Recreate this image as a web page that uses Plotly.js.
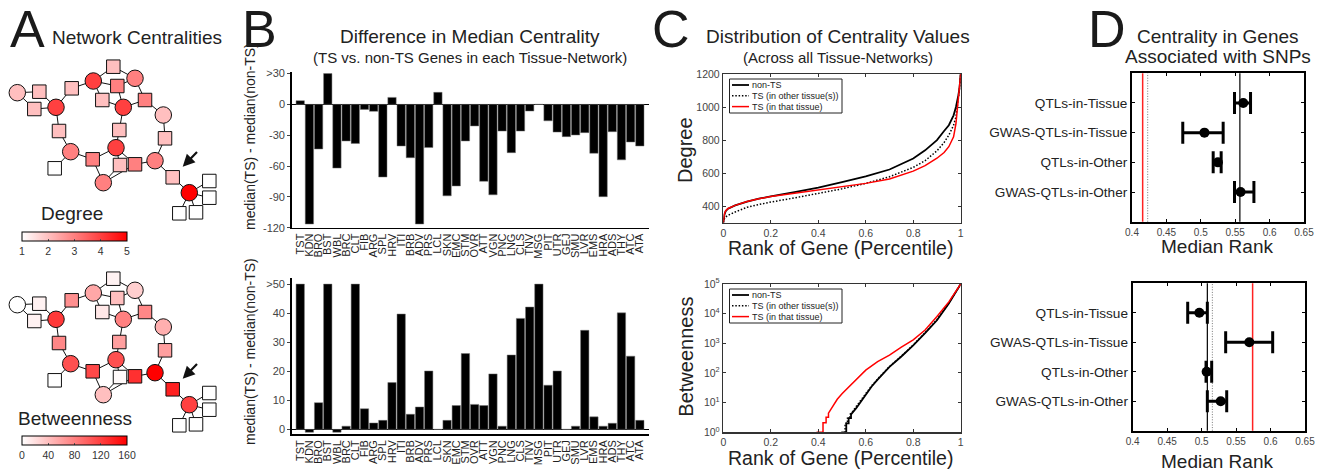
<!DOCTYPE html>
<html><head><meta charset="utf-8">
<script src="https://cdn.plot.ly/plotly-3.0.1.min.js"></script>
<style>html,body{margin:0;padding:0;background:#fff}#chart{width:1320px;height:472px}</style>
</head><body><div id="chart"></div>
<script>
// ================= DATA =================
// Panel A: toy network (local pixel frame), node values
const nodeName  = ['C1','S1','S2','C2','S3','C3','S4','C4','S5','S6','C5','S7','C6','S8','S9','S10','C7','S11','S12','C8','S13','S14','C10','C9','S15','C11','S16','S17','S18','S19'];
const nodeShape = ['circle','square','square','circle','square','circle','square','circle','square','square','circle','square','circle','square','square','square','circle','square','square','circle','square','square','circle','circle','square','circle','square','square','square','square'];
const nodeX = [17.3,39.3,34.3,56,71.7,93.3,113.3,135,117.3,102.3,123.3,145,163.3,59,119.3,165,70.7,54.7,92.7,116,120,135,103.3,155,172.7,189.3,209.3,209.3,179.3,196];
const nodeY = [92.7,91.7,109,107.3,88.3,81,66.7,78.3,86,100,107.3,100,115,131,130,138.3,151.7,168.3,159.3,147.7,165,164.3,182.7,160.7,177.3,192.7,181,197.7,213.3,212.3];
const nodeDegree  = [2,2,2,4,2,4,2,3,3,2,4,3,2,2,2,2,3,1,3,4,2,3,3,3,2,5,1,1,1,1];
const nodeBetween = [0,8,8,125,70,55,8,30,40,15,80,75,50,75,60,60,110,0,115,110,3,130,40,160,140,120,0,0,0,0];
const edgeFrom = ['C1','C1','S1','S2','C2','S3','C3','S4','C3','S5','C3','S5','S6','C4','C5','S7','C6','S10','C2','S8','C7','C7','S12','C5','S9','C8','S12','C10','C10','S14','S14','C9','S15','C11','C11','C11','C11'];
const edgeTo   = ['S1','S2','C2','C2','S3','C3','S4','C4','S5','C4','S6','C5','C5','S7','S7','C6','S10','C9','S8','C7','S11','S12','C8','S9','C8','S13','C10','S13','S14','C8','C9','S15','C11','S16','S17','S18','S19'];
const arrowHead = [182.7,166.7];
const arrowTail = [200,149];
const degreeTicks  = [1,2,3,4,5];
const betweenTicks = [0,40,80,120,160];

// Panel B: difference in median centrality per tissue
const tissues = ['TST','KDN','BRO','BST','WBL','BRC','CLT','FIB','ARG','SPL','HRV','ITI','BRB','ADV','PRS','LCL','SKN','EMC','STM','OVR','ATT','VGN','PNC','LNG','CLS','TNV','MSG','PIT','UTR','GEJ','SMU','LVR','EMS','HRA','ADS','THY','ATC','ATA'];
const degreeDiff  = [3.6,-116.4,-43.4,30,-62,-35.6,-38,-4.9,-6.8,-70.7,6.8,-40.5,-51.9,-116.4,-42,11.7,-89,-79.4,-35.6,-21,-74.9,-88,-26,-47,-26,-6.5,0,-16,-27,-31.4,-29.8,-27.5,-47.6,-89.8,-26.6,-54,-36.6,-40.5];
const betweenDiff = [50,-1,9.2,50,-1,1.1,50,7.1,2.2,3.1,16.1,39.7,5.2,7.7,20.1,0,3.1,8.2,26.1,8.6,8.2,19.1,1.1,25.6,38.2,42.1,50,15.2,20.1,0,1.1,34.1,4.3,1.1,2.1,40.1,25.2,3.1];
const degTickVals = [-120,-90,-60,-30,0,30];
const degTickText = ['-120','-90','-60','-30','0','>30'];
const btwTickVals = [0,10,20,30,40,50];
const btwTickText = ['0','10','20','30','40','>50'];

// Panel C: distributions
const seriesNames = ['non-TS','TS (in other tissue(s))','TS (in that tissue)'];
const degRank = [0,0.002,0.005,0.01,0.02,0.05,0.1,0.15,0.2,0.3,0.4,0.5,0.6,0.7,0.8,0.85,0.9,0.93,0.95,0.97,0.98,0.99,0.995,1.0];
const degNonTS  = [300,330,350,370,385,405,428,445,460,485,512,545,580,622,688,738,800,855,890,950,1000,1070,1115,1200];
const degTSOther= [300,315,325,335,345,365,393,410,425,450,478,505,538,578,635,675,735,785,830,890,940,1040,1110,1200];
const degTSThat = [300,335,355,372,386,405,428,445,458,478,497,515,538,565,612,645,690,725,760,820,900,1050,1130,1200];
const btwRankNonTS  = [0.503,0.518,0.518,0.528,0.528,0.538,0.538,0.55,0.56,0.58,0.6,0.625,0.65,0.7,0.75,0.8,0.85,0.9,0.95,0.975,1.0];
const btwNonTS      = [1,1,2,2,3,3,4,5,6.5,11,19,35,60,160,360,850,2200,6000,22000,45000,100000];
const btwRankTSOther= [0.497,0.513,0.513,0.523,0.523,0.533,0.533,0.545,0.56,0.58,0.6,0.625,0.65,0.7,0.75,0.8,0.85,0.9,0.95,0.975,1.0];
const btwTSOther    = [1,1,2,2,3,3,4,5,7.5,12.5,21,37,63,165,370,880,2300,6300,23000,46000,100000];
const btwRankTSThat = [0.393,0.42,0.42,0.433,0.433,0.443,0.443,0.46,0.48,0.5,0.525,0.55,0.6,0.65,0.7,0.75,0.8,0.85,0.9,0.95,0.975,1.0];
const btwTSThat     = [1,1,2.1,2.1,3.2,3.2,4.4,7.5,13,20,32,50,125,240,400,740,1300,2800,8000,25000,50000,100000];
const logTickVals = [1,10,100,1000,10000,100000];
const logTickText = ['10<sup>0</sup>','10<sup>1</sup>','10<sup>2</sup>','10<sup>3</sup>','10<sup>4</sup>','10<sup>5</sup>'];

// Panel D: median rank of SNP-associated genes
const snpCats = ['QTLs-in-Tissue','GWAS-QTLs-in-Tissue','QTLs-in-Other','GWAS-QTLs-in-Other'];
const degMed = [0.5617,0.5053,0.5248,0.5578];
const degLo  = [0.549,0.4738,0.518,0.549];
const degHi  = [0.5723,0.5325,0.5296,0.5772];
const degRef = [0.5568,0.4228,0.4155];   // non-TS, TS other, TS that
const btwMed = [0.4967,0.5692,0.5073,0.5277];
const btwLo  = [0.4798,0.5349,0.5064,0.5083];
const btwHi  = [0.5083,0.6031,0.5146,0.5364];
const btwRef = [0.5083,0.5156,0.574];
const rankTicks = [0.4,0.45,0.5,0.55,0.6,0.65];

// ================= STYLE / LAYOUT HELPERS =================
const W = 1320, H = 472;
const FONT = 'Liberation Sans, Arial, Helvetica, sans-serif';
const fx = p => p / W;
const fy = p => 1 - p / H;
const domX = (a, b) => [fx(a), fx(b)];
const domY = (top, bottom) => [fy(bottom), fy(top)];
const seriesColor = ['#000000','#000000','#ff0000'];
const seriesDash  = ['solid','1.5px,1.8px','solid'];
const seriesWidth = [1.8,1.5,1.5];
const refColor = ['#000000','#777777','#ff2222'];
const refDash  = ['solid','1px,1.6px','solid'];
const refWidth = [1.2,1.0,1.5];

const idx = {}; nodeName.forEach((n,i)=>idx[n]=i);
function edgeXY(){
  const ex=[], ey=[];
  edgeFrom.forEach((f,i)=>{const a=idx[f], b=idx[edgeTo[i]]; ex.push(nodeX[a],nodeX[b],null); ey.push(nodeY[a],nodeY[b],null);});
  return {ex,ey};
}
const E = edgeXY();
const nodeSize = nodeShape.map(s => s==='circle'?16.5:13.5);

const traces = [];
// Panel A network traces
[['x','y',nodeDegree,'coloraxis'],['x8','y8',nodeBetween,'coloraxis2']].forEach(([xa,ya,vals,ca])=>{
  traces.push({type:'scatter',mode:'lines',x:E.ex,y:E.ey,xaxis:xa,yaxis:ya,line:{color:'#111',width:1},hoverinfo:'skip',showlegend:false});
  traces.push({type:'scatter',mode:'markers',x:nodeX,y:nodeY,xaxis:xa,yaxis:ya,
    marker:{symbol:nodeShape,size:nodeSize,color:vals,coloraxis:ca,line:{color:'#111',width:1},opacity:1},hoverinfo:'skip',showlegend:false});
});
// Panel B bars
traces.push({type:'bar',x:tissues,y:degreeDiff,xaxis:'x2',yaxis:'y2',marker:{color:'#000',line:{color:'#777',width:0.5}},showlegend:false});
traces.push({type:'bar',x:tissues,y:betweenDiff,xaxis:'x3',yaxis:'y3',marker:{color:'#000',line:{color:'#777',width:0.5}},showlegend:false});
// Panel C lines
const degSeries = [degNonTS,degTSOther,degTSThat];
degSeries.forEach((ys,i)=>traces.push({type:'scatter',mode:'lines',x:degRank,y:ys,xaxis:'x4',yaxis:'y4',name:seriesNames[i],
  line:{color:seriesColor[i],dash:seriesDash[i],width:seriesWidth[i]},showlegend:false}));
const btwSeries = [[btwRankNonTS,btwNonTS],[btwRankTSOther,btwTSOther],[btwRankTSThat,btwTSThat]];
btwSeries.forEach(([xs,ys],i)=>traces.push({type:'scatter',mode:'lines',x:xs,y:ys,xaxis:'x5',yaxis:'y5',name:seriesNames[i],
  line:{color:seriesColor[i],dash:seriesDash[i],width:seriesWidth[i]},showlegend:false}));
// Panel D points with error bars
[['x6','y6',degMed,degLo,degHi],['x7','y7',btwMed,btwLo,btwHi]].forEach(([xa,ya,med,lo,hi])=>{
  traces.push({type:'scatter',mode:'markers',x:med,y:snpCats,xaxis:xa,yaxis:ya,marker:{color:'#000',size:10},
    error_x:{type:'data',symmetric:false,array:hi.map((h,i)=>h-med[i]),arrayminus:lo.map((l,i)=>med[i]-l),color:'#000',thickness:3,width:11},
    showlegend:false});
});

const hidden = {visible:false,fixedrange:true};
const tickF = {family:FONT,size:10.5,color:'#444'};
const boxAxis = (extra)=>Object.assign({showline:true,linecolor:'#333',linewidth:1.5,mirror:'ticks',ticks:'inside',ticklen:3,tickcolor:'#333',showgrid:false,zeroline:false,tickfont:tickF},extra);
const dAxis = (extra)=>Object.assign({showline:true,linecolor:'#000',linewidth:2,mirror:'ticks',ticks:'inside',ticklen:3,tickcolor:'#000',showgrid:false,zeroline:false,tickfont:{family:FONT,size:10,color:'#444'}},extra);
const catOrder = snpCats.slice().reverse();
const bXAxis = (anchor)=>({domain:domX(291.7,649),range:[-0.93,38.0],anchor:anchor,type:'category',tickmode:'array',tickvals:tissues,ticktext:tissues,
  tickangle:-90,showline:true,linecolor:'#000',linewidth:1.5,ticks:'',showgrid:false,zeroline:false,tickfont:{family:FONT,size:11,color:'#222'}});

const layout = {
  width:W,height:H,margin:{l:0,r:0,t:0,b:0},paper_bgcolor:'#fff',plot_bgcolor:'rgba(0,0,0,0)',
  font:{family:FONT,color:'#222'},showlegend:false,bargap:0.09,
  // A
  xaxis: Object.assign({domain:domX(0,240),range:[0,240],anchor:'y'},hidden),
  yaxis: Object.assign({domain:domY(0,236),range:[236,0],anchor:'x'},hidden),
  xaxis8:Object.assign({domain:domX(0,240),range:[0,240],anchor:'y8'},hidden),
  yaxis8:Object.assign({domain:domY(212,448),range:[236,0],anchor:'x8'},hidden),
  coloraxis:{cmin:1,cmax:5,colorscale:[[0,'#ffffff'],[1,'#ff0000']],
    colorbar:{orientation:'h',thickness:9,len:105,lenmode:'pixels',x:fx(74.5),xanchor:'center',y:fy(231.5),yanchor:'top',
      tickvals:degreeTicks,ticks:'inside',ticklen:2,tickcolor:'#555',outlinewidth:1,outlinecolor:'#000',xpad:0,ypad:0,
      tickfont:{family:FONT,size:10.5,color:'#333'}}},
  coloraxis2:{cmin:0,cmax:160,colorscale:[[0,'#ffffff'],[1,'#ff0000']],
    colorbar:{orientation:'h',thickness:9,len:105,lenmode:'pixels',x:fx(74.5),xanchor:'center',y:fy(435.5),yanchor:'top',
      tickvals:betweenTicks,ticks:'inside',ticklen:2,tickcolor:'#555',outlinewidth:1,outlinecolor:'#000',xpad:0,ypad:0,
      tickfont:{family:FONT,size:10.5,color:'#333'}}},
  // B
  xaxis2:bXAxis('y2'),
  yaxis2:{domain:domY(72,227.7),range:[-120,31.5],anchor:'x2',tickvals:degTickVals,ticktext:degTickText,ticks:'outside',ticklen:3,
    showline:true,linecolor:'#000',linewidth:1.5,showgrid:false,zeroline:true,zerolinecolor:'#000',zerolinewidth:1.2,tickfont:{family:FONT,size:11,color:'#444'}},
  xaxis3:bXAxis('y3'),
  yaxis3:{domain:domY(278.3,434.3),range:[-1.7,52],anchor:'x3',tickvals:btwTickVals,ticktext:btwTickText,ticks:'outside',ticklen:3,
    showline:true,linecolor:'#000',linewidth:1.5,showgrid:false,zeroline:true,zerolinecolor:'#000',zerolinewidth:1.2,tickfont:{family:FONT,size:11,color:'#444'}},
  // C
  xaxis4:boxAxis({domain:domX(723.3,960.7),range:[0,1],anchor:'y4',tickvals:[0,0.2,0.4,0.6,0.8,1]}),
  yaxis4:boxAxis({domain:domY(74,222.7),range:[300,1200],anchor:'x4',tickvals:[400,600,800,1000,1200]}),
  xaxis5:boxAxis({domain:domX(723.3,960.7),range:[0,1],anchor:'y5',tickvals:[0,0.2,0.4,0.6,0.8,1]}),
  yaxis5:boxAxis({domain:domY(284,432.3),type:'log',range:[0,5],anchor:'x5',tickvals:logTickVals,ticktext:logTickText}),
  // D
  xaxis6:dAxis({domain:domX(1132,1304),range:[0.4,0.65],anchor:'y6',tickvals:rankTicks}),
  yaxis6:dAxis({domain:domY(73.3,221.7),type:'category',categoryorder:'array',categoryarray:catOrder,range:[-1,4],anchor:'x6',
    tickfont:{family:FONT,size:13.6,color:'#222'}}),
  xaxis7:dAxis({domain:domX(1132.7,1305),range:[0.4,0.65],anchor:'y7',tickvals:rankTicks}),
  yaxis7:dAxis({domain:domY(283.3,430.7),type:'category',categoryorder:'array',categoryarray:catOrder,range:[-1,4],anchor:'x7',
    tickfont:{family:FONT,size:13.6,color:'#222'}}),
  shapes:[],annotations:[]
};

// D reference lines
[['x6','y6',degRef],['x7','y7',btwRef]].forEach(([xa,ya,refs])=>{
  refs.forEach((v,i)=>layout.shapes.push({type:'line',layer:'below',xref:xa,yref:ya+' domain',x0:v,x1:v,y0:0,y1:1,
    line:{color:refColor[i],dash:refDash[i],width:refWidth[i]}}));
});

// C legends (drawn manually, MATLAB style)
[79,289].forEach(top=>{
  layout.shapes.push({type:'rect',xref:'paper',yref:'paper',x0:fx(729.5),x1:fx(842),y0:fy(top+34),y1:fy(top),
    line:{color:'#222',width:1},fillcolor:'#fff',layer:'above'});
  seriesNames.forEach((nm,i)=>{
    const yy = top+6+i*10.8;
    layout.shapes.push({type:'line',xref:'paper',yref:'paper',x0:fx(732),x1:fx(749),y0:fy(yy),y1:fy(yy),
      line:{color:seriesColor[i],dash:seriesDash[i],width:seriesWidth[i]}});
    layout.annotations.push({xref:'paper',yref:'paper',x:fx(750),y:fy(yy),xanchor:'left',yanchor:'middle',text:nm,showarrow:false,
      font:{family:FONT,size:9,color:'#222'}});
  });
});

// Arrows in A
[['x','y'],['x8','y8']].forEach(([xa,ya])=>layout.annotations.push({xref:xa,yref:ya,x:arrowHead[0],y:arrowHead[1],
  ax:arrowTail[0]-arrowHead[0],ay:arrowTail[1]-arrowHead[1],showarrow:true,arrowhead:2,arrowsize:1.1,arrowwidth:2.2,arrowcolor:'#111',text:' '}));

// Text annotations (paper px positions)
function txt(text,x,y,size,opts){
  layout.annotations.push(Object.assign({xref:'paper',yref:'paper',x:fx(x),y:fy(y),xanchor:'center',yanchor:'middle',text:text,showarrow:false,
    font:{family:FONT,size:size,color:'#222'}},opts||{}));
}
const bigF = {family:FONT,size:52,color:'#1a1a1a'};
txt('A',27.5,29,52,{font:bigF});
txt('B',259,29,52,{font:bigF});
txt('C',671,29,52,{font:bigF});
txt('D',1107,29,52,{font:bigF});
txt('Network Centralities',50,37,19,{xanchor:'left'});
txt('Degree',72,213.3,19);
txt('Betweenness',75.3,418.7,19);
txt('Difference in Median Centrality',470,36,19);
txt('(TS vs. non-TS Genes in each Tissue-Network)',470,57,15);
txt('Distribution of Centrality Values',837.5,36,19);
txt('(Across all Tissue-Networks)',837.5,57,15);
txt('Centrality in Genes',1217.7,36,19);
txt('Associated with SNPs',1217.7,56,19);
txt('median(TS) - median(non-TS)',250,137,14,{textangle:-90});
txt('median(TS) - median(non-TS)',250,352,14,{textangle:-90});
txt('Degree',685,150,20,{textangle:-90});
txt('Betweenness',685.7,357,20,{textangle:-90});
txt('Rank of Gene (Percentile)',840.8,248.3,19.5);
txt('Rank of Gene (Percentile)',840.8,458.3,19.5);
txt('Median Rank',1217,246.7,19);
txt('Median Rank',1217,461.7,19);

Plotly.newPlot('chart',traces,layout,{staticPlot:true,displayModeBar:false});
</script>
</body></html>
